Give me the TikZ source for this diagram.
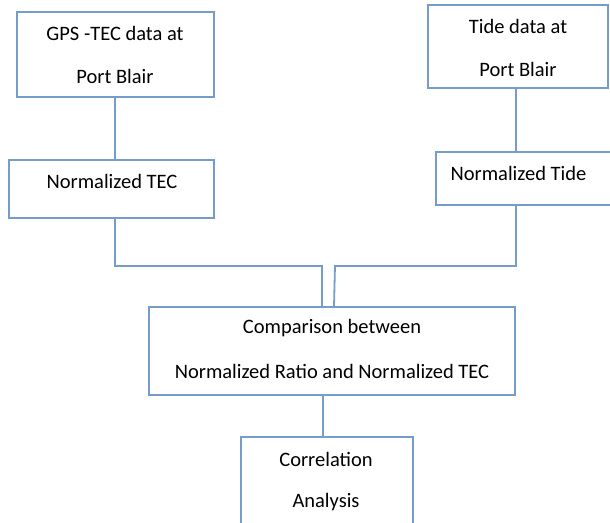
\documentclass[tikz,border=0pt]{standalone}
\usepackage{fontspec}
\setmainfont{Carlito}
\definecolor{boxblue}{RGB}{118,156,202}
\begin{document}
\begin{tikzpicture}[x=1pt,y=-1pt,
  flowbox/.style={draw=boxblue,line width=1.8pt,rectangle,inner sep=0pt},
  lbl/.style={font=\fontsize{20.5}{24}\selectfont,inner sep=0pt,anchor=center,text=black},
  conn/.style={draw=boxblue,line width=1.8pt}]
\useasboundingbox (0,0) rectangle (610,522);
\clip (0,0) rectangle (610,522);
% boxes
\node[flowbox,minimum width=197pt,minimum height=85pt] (gps) at (115.5,54.5) {};
\node[flowbox,minimum width=205pt,minimum height=58pt] (ntec) at (111.5,189) {};
\node[flowbox,minimum width=180pt,minimum height=83pt] (tide) at (518,46.5) {};
\node[flowbox,minimum width=179pt,minimum height=53pt] (ntide) at (525.5,178.5) {};
\node[flowbox,minimum width=366pt,minimum height=88pt] (comp) at (332,351) {};
\node[flowbox,minimum width=172pt,minimum height=103pt] (corr) at (327,488.5) {};
% texts
\node[lbl] (gpsA) at (115,33) {GPS -TEC data at};
\node[lbl] (gpsB) at (115,76) {Port Blair};
\node[lbl] (ntecT) at (112,181) {Normalized TEC};
\node[lbl] (tideA) at (518,26) {Tide data at};
\node[lbl] (tideB) at (518,69) {Port Blair};
\node[lbl] (ntideT) at (518.5,173) {Normalized Tide};
\node[lbl] (compA) at (332,328) {Comparison between};
\node[lbl] (compB) at (332,371) {Normalized Ratio and Normalized TEC};
\node[lbl] (corrA) at (326,459) {Correlation};
\node[lbl] (corrB) at (326,502) {Analysis};
% junction coordinates
\coordinate (jl) at (322,266);
\coordinate (jr) at (335,266);
% connectors
\draw[conn] (gps.south -| 115,0) -- (ntec.north -| 115,0);
\draw[conn] (tide.south -| 516,0) -- (ntide.north -| 516,0);
\draw[conn] (ntec.south -| 115,0) |- (jl) -- (comp.north -| jl);
\draw[conn] (ntide.south -| 516,0) |- (jr) -- (comp.north -| 334,0);
\draw[conn] (comp.south -| 323,0) -- (corr.north -| 323,0);
\end{tikzpicture}
\end{document}
